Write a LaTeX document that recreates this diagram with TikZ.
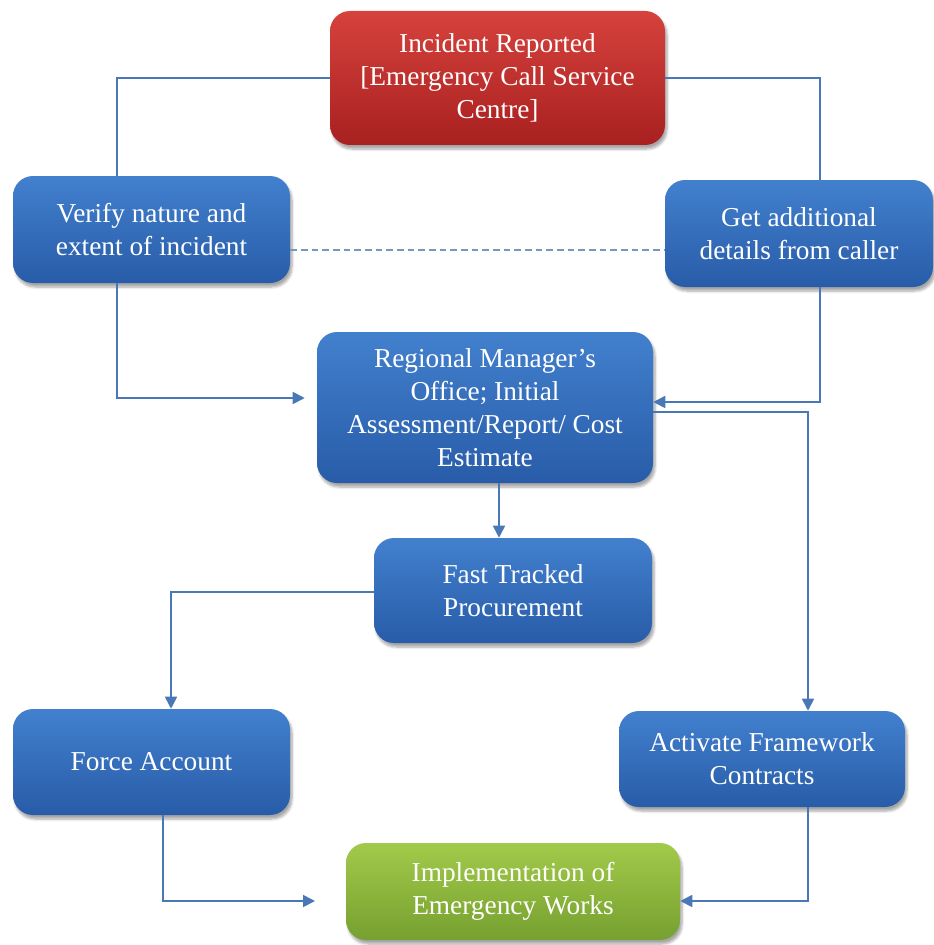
\documentclass[tikz,border=0pt]{standalone}
\usepackage{fontspec}
\setmainfont{Liberation Serif}
\usetikzlibrary{shadows.blur,arrows.meta,calc}
\definecolor{lineblue}{RGB}{74,120,182}
\definecolor{dashblue}{RGB}{120,150,190}
\definecolor{bluetop}{RGB}{66,128,206}
\definecolor{bluebot}{RGB}{40,92,168}
\definecolor{redtop}{RGB}{214,66,60}
\definecolor{redbot}{RGB}{168,32,32}
\definecolor{greentop}{RGB}{162,202,74}
\definecolor{greenbot}{RGB}{118,160,48}
\tikzset{
  boxbase/.style={rounded corners=15pt, align=center, text=white,
    font=\fontsize{20.5}{24.75}\selectfont, inner sep=0pt,
    blur shadow={shadow xshift=1.5pt, shadow yshift=-3pt, shadow blur steps=6, shadow opacity=35}},
  bluebox/.style={boxbase, top color=bluetop, bottom color=bluebot},
  redbox/.style={boxbase, top color=redtop, bottom color=redbot},
  greenbox/.style={boxbase, top color=greentop, bottom color=greenbot},
  conn/.style={draw=lineblue, line width=1.3pt},
  arr/.style={conn, -{Triangle[length=9pt,width=9pt]}},
  dashconn/.style={draw=dashblue, line width=1pt, dashed, dash pattern=on 5pt off 3pt},
}
\newcommand{\pbox}[7]{%
  \node[#6, minimum width={(#4-#2)*0.75pt}, minimum height={(#5-#3)*0.75pt}]
    (#1) at ({(#2+#4)/2},{(#3+#5)/2}) {#7};}
\begin{document}
\begin{tikzpicture}[x=0.75pt,y=-0.75pt]
\useasboundingbox (0,0) rectangle (933,945);
\pbox{inc}{330}{11}{665}{145}{redbox}{Incident Reported\\\relax[Emergency Call Service\\Centre]}
\pbox{ver}{13}{176}{290}{283}{bluebox}{Verify nature and\\extent of incident}
\pbox{get}{665}{180}{933}{287}{bluebox}{Get additional\\details from caller}
\pbox{reg}{317}{332}{653}{483}{bluebox}{Regional Manager’s\\Office; Initial\\Assessment/Report/ Cost\\Estimate}
\pbox{fast}{374}{538}{652}{643}{bluebox}{Fast Tracked\\Procurement}
\pbox{force}{13}{709}{290}{815}{bluebox}{Force Account}
\pbox{act}{619}{711}{905}{807}{bluebox}{Activate Framework\\Contracts}
\pbox{impl}{346}{843}{680}{940}{greenbox}{Implementation of\\Emergency Works}

\coordinate (xL) at (117,0);
\coordinate (xR) at (820,0);
\coordinate (yD) at (0,250);
\coordinate (yA) at (0,398);
\coordinate (yB) at (0,402);
\coordinate (yC) at (0,412);
\coordinate (xA) at (808,0);
\coordinate (xM) at (499,0);
\coordinate (yF) at (0,592);
\coordinate (xF) at (171,0);
\coordinate (xG) at (163,0);
\coordinate (yI) at (0,901);
\coordinate (fT) at (315,901);

\draw[conn] (inc.west) -| (ver.north -| xL);
\draw[conn] (inc.east) -| (get.north -| xR);
\draw[dashconn] (ver.east |- yD) -- (get.west |- yD);
\draw[arr, shorten >=9pt] (ver.south -| xL) |- (reg.west |- yA);
\draw[arr] (get.south -| xR) |- (reg.east |- yB);
\draw[arr] (reg.east |- yC) -| (act.north -| xA);
\draw[arr] (reg.south -| xM) -- (fast.north -| xM);
\draw[arr] (fast.west |- yF) -| (force.north -| xF);
\draw[arr] (force.south -| xG) |- (fT);
\draw[arr] (act.south -| xA) |- (impl.east |- yI);
\end{tikzpicture}
\end{document}
